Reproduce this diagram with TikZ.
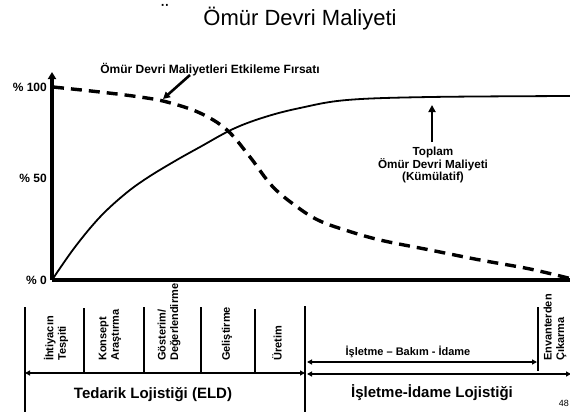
\documentclass[tikz,border=0pt]{standalone}
\usepackage{fontspec}
\setmainfont{Liberation Sans}
\usetikzlibrary{arrows.meta}
\begin{document}
\begin{tikzpicture}[x=1pt,y=-1pt,
  title/.style={font=\fontsize{22}{24}\selectfont, inner sep=0pt},
  lbl/.style={font=\bfseries\fontsize{12}{13}\selectfont, inner sep=0pt},
  note/.style={font=\bfseries\fontsize{11.7}{12}\selectfont, inner sep=0pt, align=center},
  phase/.style={font=\bfseries\fontsize{11}{12.5}\selectfont, rotate=90, anchor=west, align=left, inner sep=0pt},
  band/.style={font=\bfseries\fontsize{15}{17}\selectfont, inner sep=0pt},
  axis/.style={line width=3.6pt},
  cost/.style={line width=1.8pt},
  chance/.style={line width=3.4pt, dash pattern=on 11pt off 7pt},
  pointer/.style={line width=2.6pt, -{Triangle[length=7pt,width=7pt]}},
  sep/.style={line width=2.6pt},
  span/.style={line width=2.3pt, {Triangle[length=5pt,width=5pt]}-{Triangle[length=5pt,width=5pt]}}]
\useasboundingbox (0,0) rectangle (570,418);

% heading
\node[title, anchor=base] (head) at (300,25.5) {Ömür Devri Maliyeti};
\node[title, anchor=base] (mark) at (165,19) {¨};

% axes
\coordinate (o) at (52,280);
\coordinate (ytop) at (52,72);
\coordinate (xend) at (572,280);
\draw[axis, -{Triangle[length=7pt,width=8pt]}] (o) -- (ytop);
\draw[axis] (o) -- (xend);
\node[lbl, anchor=east] (p100) at (47,87) {\% 100};
\node[lbl, anchor=east] (p50) at (47,178) {\% 50};
\node[lbl, anchor=east] (p0) at (47,280) {\% 0};

% cumulative life cycle cost
\draw[cost] plot[smooth, tension=0.6] coordinates {
  (52,280) (75,247) (100,217) (125,194) (147,178) (175,161) (200,147)
  (233,129) (265,117) (300,108) (347,100) (430,97) (572,96)};

% opportunity to influence life cycle cost
\draw[chance] plot[smooth, tension=0.6] coordinates {
  (53,87) (100,92) (140,97) (167,102) (200,113) (227,130) (250,157)
  (273,187) (300,209) (320,221) (345,230) (380,240) (430,250) (480,260)
  (530,269) (572,279)};

% annotations
\node[lbl, anchor=base] (opp) at (210,73) {Ömür Devri Maliyetleri Etkileme Fırsatı};
\coordinate (oppfrom) at (190,75);
\coordinate (opptip) at (163,99);
\draw[pointer] (oppfrom) -- (opptip);

\node[note, anchor=north] (tl) at (433,146.5) {Toplam\\Ömür Devri Maliyeti\\(Kümülatif)};
\coordinate (tltip) at (432,105);
\coordinate (tlfrom) at (432,142);
\draw[pointer] (tlfrom) -- (tltip);

% phase table
\draw[sep] (25,307) -- (25,412);
\draw[sep] (84,308) -- (84,373);
\draw[sep] (144,307) -- (144,373);
\draw[sep] (201,307) -- (201,373);
\draw[sep] (255,309) -- (255,373);
\draw[sep] (305,306) -- (305,412);
\draw[sep] (538,307) -- (538,371);

\node[phase] (ph1) at (56,361) {İhtiyacın\\Tespiti};
\node[phase] (ph2) at (110,361) {Konsept\\Araştırma};
\node[phase] (ph3) at (169,361) {Gösterim/\\Değerlendirme};
\node[phase] (ph4) at (227,361) {Geliştirme};
\node[phase] (ph5) at (277,361) {Üretim};
\node[phase] (ph6) at (555,361) {Envanterden\\Çıkarma};

\coordinate (tedl) at (25,373);
\coordinate (tedr) at (305,373);
\draw[span] (tedl) -- (tedr);
\coordinate (isl) at (307,374);
\coordinate (isr) at (571,374);
\draw[span] (isl) -- (isr);
\coordinate (bkl) at (307,362);
\coordinate (bkr) at (537,362);
\draw[span] (bkl) -- (bkr);

\node[font=\bfseries\fontsize{11}{12}\selectfont, inner sep=0pt] (bakim) at (408,352) {İşletme – Bakım - İdame};
\node[band] (ted) at (153,395) {Tedarik Lojistiği (ELD)};
\node[band] (isl2) at (432,393) {İşletme-İdame Lojistiği};

\node[font=\fontsize{9}{10}\selectfont, inner sep=0pt, anchor=east] (page) at (569,403) {48};
\end{tikzpicture}
\end{document}
